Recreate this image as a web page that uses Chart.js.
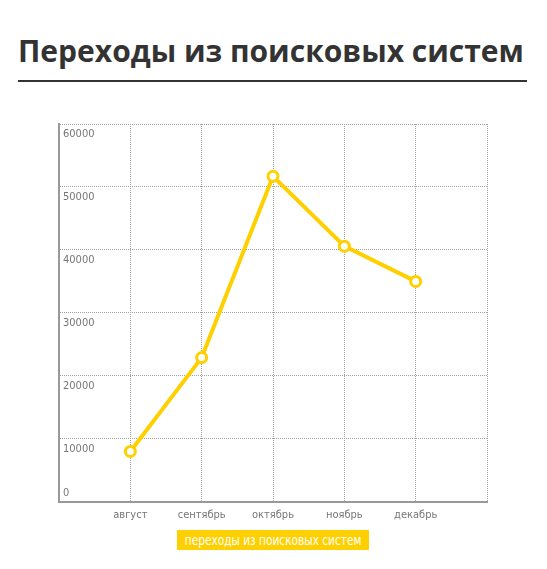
<!DOCTYPE html>
<html>
<head>
<meta charset="utf-8">
<script src="https://cdn.jsdelivr.net/npm/chart.js@4"></script>
<style>
  body { margin: 0; background: #fff; width: 547px; height: 569px; position: relative; overflow: hidden; }
  h1 { position: absolute; left: 18px; top: 30px; margin: 0; font: bold 30px "Open Sans", sans-serif; color: #333; white-space: nowrap; }
  .rule { position: absolute; left: 18px; top: 80px; width: 509px; height: 2px; background: #333; }
  .wrap { position: absolute; left: 0; top: 100px; width: 547px; height: 429px; }
  .legend { position: absolute; left: 177px; top: 530px; width: 192px; height: 20px; background: #ffd000; color: #fff;
    display: flex; justify-content: center; align-items: center; white-space: nowrap; }
  .legend span { display: inline-block; font: 14px "DejaVu Sans Condensed", sans-serif; transform: scaleX(0.84); }
</style>
</head>
<body>
<h1>Переходы из поисковых систем</h1>
<div class="rule"></div>
<div class="wrap"><canvas id="line-chart"></canvas></div>
<div class="legend"><span>переходы из поисковых систем</span></div>
<script>
const months = ["август", "сентябрь", "октябрь", "ноябрь", "декабрь"];
const visits = [8000, 22900, 51700, 40600, 35000];
const yTicks = [0, 10000, 20000, 30000, 40000, 50000, 60000];
const seriesName = "переходы из поисковых систем";

// empty slots on both sides so the points sit one step in from the edges
labels = [""].concat(months, [""]);
values = [null].concat(visits, [null]);

const tickFont = { family: "'DejaVu Sans Condensed', sans-serif", size: 11 };
const yellow = "#ffd000";

new Chart(document.getElementById("line-chart"), {
  type: "line",
  data: {
    labels: labels,
    datasets: [
      {
        label: seriesName,
        data: values,
        borderColor: yellow,
        borderWidth: 4,
        pointRadius: 5,
        pointBorderWidth: 3,
        pointBackgroundColor: "#fff",
        pointBorderColor: yellow,
        tension: 0,
      },
    ],
  },
  options: {
    responsive: true,
    maintainAspectRatio: false,
    animation: false,
    layout: { padding: { left: 59, top: 24, right: 60, bottom: 0 } },
    plugins: { legend: { display: false }, tooltip: { enabled: false } },
    scales: {
      x: {
        offset: false,
        grid: { color: "#a0a0a0", lineWidth: 1, drawTicks: false },
        border: { color: "#999", width: 2, dash: [1, 1] },
        ticks: { color: "#777", font: tickFont, padding: 7, maxRotation: 0, autoSkip: false },
      },
      y: {
        min: yTicks[0],
        max: yTicks[yTicks.length - 1],
        afterBuildTicks: (axis) => { axis.ticks = yTicks.map((v) => ({ value: v })); },
        afterFit: (axis) => { axis.width = 0; },
        grid: { color: "#a0a0a0", lineWidth: 1, drawTicks: false },
        border: { color: "#999", width: 2, dash: [1, 1] },
        ticks: {
          mirror: true, padding: 4, labelOffset: 10, color: "#777", font: tickFont,
          callback: (v) => (v === 0 ? "" : String(v)),
        },
      },
      y0: {
        position: "left",
        min: yTicks[0],
        max: yTicks[yTicks.length - 1],
        afterBuildTicks: (axis) => { axis.ticks = [{ value: 0 }]; },
        afterFit: (axis) => { axis.width = 0; },
        grid: { display: false },
        border: { display: false },
        ticks: {
          mirror: true, padding: 4, labelOffset: -9, color: "#777", font: tickFont,
          callback: (v) => (v === 0 ? "0" : ""),
        },
      },
    },
  },
});
</script>
</body>
</html>
